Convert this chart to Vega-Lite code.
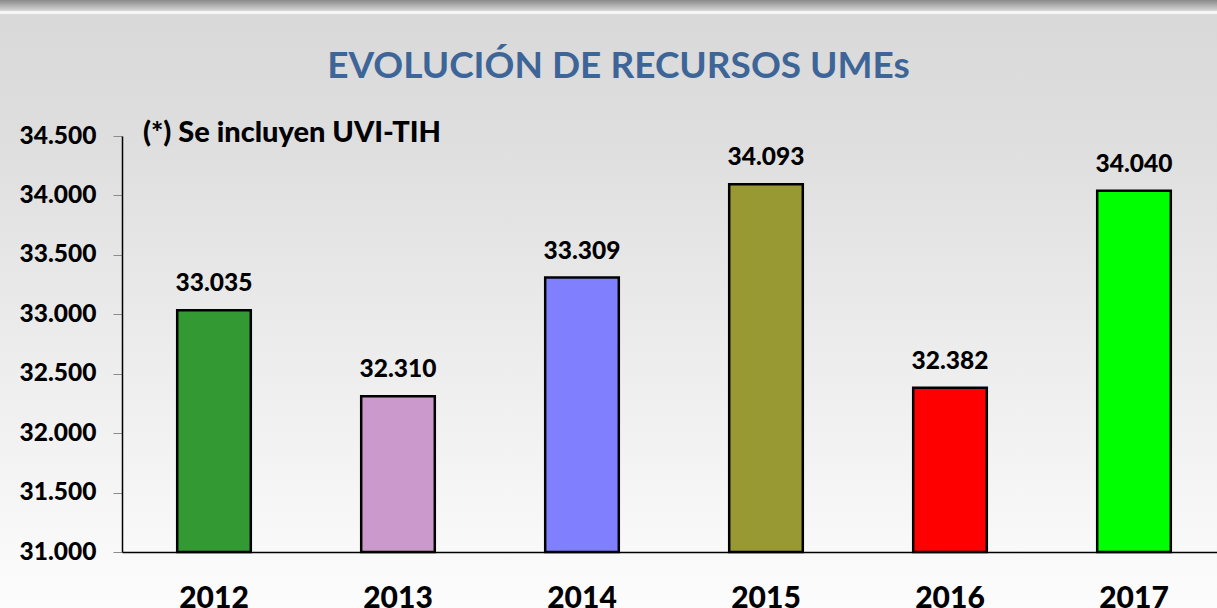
{
  "$schema": "https://vega.github.io/schema/vega-lite/v6.json",
  "width": 1217,
  "height": 608,
  "autosize": {"type": "none"},
  "padding": 0,
  "background": "#ffffff",
  "config": {
    "locale": {"number": {"decimal": ",", "thousands": ".", "grouping": [3], "currency": ["", " €"]}},
    "view": {
      "stroke": null,
      "fill": {
        "gradient": "linear", "x1": 0, "y1": 0, "x2": 0, "y2": 1,
        "stops": [
          {"offset": 0, "color": "#8a8a8a"},
          {"offset": 0.017, "color": "#d2d2d2"},
          {"offset": 0.019, "color": "#f7f7f7"},
          {"offset": 0.022, "color": "#f7f7f7"},
          {"offset": 0.024, "color": "#d9d9d9"},
          {"offset": 0.224, "color": "#dedede"},
          {"offset": 0.49, "color": "#e9e9e9"},
          {"offset": 0.908, "color": "#f9f9f9"},
          {"offset": 1, "color": "#fcfcfc"}
        ]
      }
    },
    "font": "Lato"
  },
  "title": {
    "text": "EVOLUCIÓN DE RECURSOS UMEs",
    "font": "Lato",
    "fontSize": 37,
    "fontWeight": "bold",
    "color": "#3d6598",
    "anchor": "middle",
    "frame": "group",
    "baseline": "alphabetic",
    "offset": -115,
    "dx": 10
  },
  "data": {
    "values": [
      {"year": "2012", "value": 33035},
      {"year": "2013", "value": 32310},
      {"year": "2014", "value": 33309},
      {"year": "2015", "value": 34093},
      {"year": "2016", "value": 32382},
      {"year": "2017", "value": 34040}
    ]
  },
  "layer": [
    {
      "mark": {"type": "bar", "stroke": "#000000", "strokeWidth": 2.5},
      "encoding": {
        "x": {
          "field": "year", "type": "nominal", "sort": null,
          "scale": {"range": [122, 1226], "paddingInner": 0.6, "paddingOuter": 0.3},
          "axis": {
            "orient": "bottom", "offset": -56, "title": null, "labelAngle": 0,
            "labelFont": "Lato", "labelFontSize": 30, "labelFontWeight": 900, "labelColor": "#000000",
            "labelPadding": 31, "ticks": false, "domainColor": "#000000", "domainWidth": 1.5
          }
        },
        "y": {
          "field": "value", "type": "quantitative",
          "scale": {"domain": [31000, 34500], "range": [552, 136], "nice": false, "zero": false},
          "axis": {
            "orient": "left", "offset": -122, "title": null, "format": ",d",
            "values": [31000, 31500, 32000, 32500, 33000, 33500, 34000, 34500],
            "labelFont": "Lato", "labelFontSize": 24.5, "labelFontWeight": 900, "labelColor": "#000000",
            "labelPadding": 17, "tickSize": 9, "tickColor": "#8c8c8c", "tickWidth": 1,
            "grid": false, "domainColor": "#000000", "domainWidth": 1.5
          }
        },
        "y2": {"datum": 31000},
        "color": {
          "field": "year", "type": "nominal", "legend": null,
          "scale": {
            "domain": ["2012", "2013", "2014", "2015", "2016", "2017"],
            "range": ["#339933", "#cc99cc", "#8080ff", "#999933", "#ff0000", "#00ff00"]
          }
        }
      }
    },
    {
      "mark": {"type": "text", "baseline": "alphabetic", "dy": -19, "font": "Lato", "fontSize": 24.5, "fontWeight": 900, "color": "#000000"},
      "encoding": {
        "x": {"field": "year", "type": "nominal", "sort": null},
        "y": {"field": "value", "type": "quantitative"},
        "text": {"field": "value", "type": "quantitative", "format": ",d"}
      }
    },
    {
      "data": {"values": [{"note": "(*) Se incluyen UVI-TIH"}]},
      "mark": {"type": "text", "align": "left", "baseline": "middle", "dx": -71, "dy": -3, "font": "Lato", "fontSize": 29, "fontWeight": 900, "color": "#000000"},
      "encoding": {
        "x": {"datum": "2012"},
        "y": {"datum": 34500},
        "text": {"field": "note", "type": "nominal"}
      }
    }
  ]
}
